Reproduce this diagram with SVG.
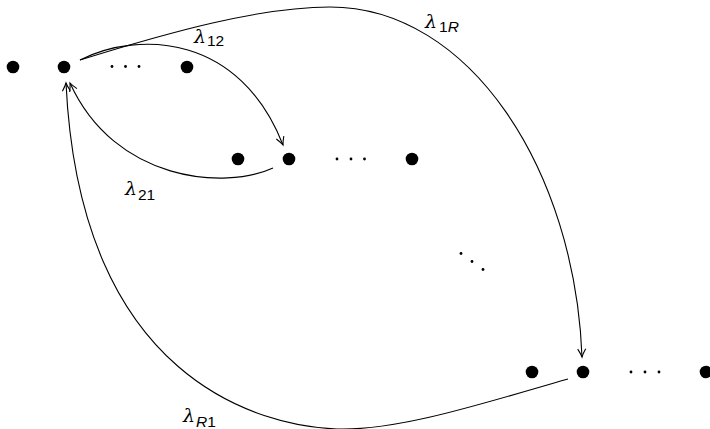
<svg xmlns="http://www.w3.org/2000/svg" width="710" height="429" viewBox="0 0 710 429">
<style>
.big{fill:#000}
.sm{fill:#000}
.edge{fill:none;stroke:#000;stroke-width:1.1}
.lam{font-family:"DejaVu Serif","Liberation Serif",serif;font-style:italic;font-size:19px;fill:#000}
.sub{font-family:"Liberation Sans",Arial,sans-serif;font-size:15.5px;fill:#000}
.subi{font-family:"Liberation Sans",Arial,sans-serif;font-size:15.5px;font-style:italic;fill:#000}
</style>
<defs>
<marker id="arr" viewBox="-10 -6 12 12" refX="0" refY="0" markerWidth="12" markerHeight="12" markerUnits="userSpaceOnUse" orient="auto">
<path d="M-8,-4 Q-3,-1 0,0 Q-3,1 -8,4" fill="none" stroke="#000" stroke-width="1.1"/>
</marker>
</defs>
<rect width="710" height="429" fill="#fff"/>
<g id="row1">
<circle class="big" cx="13" cy="67" r="6.3"/>
<circle id="n1" class="big" cx="64" cy="67" r="6.3"/>
<circle class="sm" cx="112" cy="66.5" r="1.4"/>
<circle class="sm" cx="125.5" cy="66.5" r="1.4"/>
<circle class="sm" cx="139" cy="66.5" r="1.4"/>
<circle class="big" cx="187" cy="67" r="6.3"/>
</g>
<g id="row2">
<circle class="big" cx="238" cy="159" r="6.3"/>
<circle id="n2" class="big" cx="289" cy="159" r="6.3"/>
<circle class="sm" cx="337" cy="159" r="1.4"/>
<circle class="sm" cx="351" cy="159" r="1.4"/>
<circle class="sm" cx="364.5" cy="159" r="1.4"/>
<circle class="big" cx="412" cy="159" r="6.3"/>
</g>
<g id="vdots">
<circle class="sm" cx="461" cy="253.5" r="1.4"/>
<circle class="sm" cx="472" cy="261.5" r="1.4"/>
<circle class="sm" cx="483" cy="269.5" r="1.4"/>
</g>
<g id="rowR">
<circle class="big" cx="532" cy="372" r="6.3"/>
<circle id="nR" class="big" cx="583" cy="372" r="6.3"/>
<circle class="sm" cx="631" cy="372" r="1.4"/>
<circle class="sm" cx="645" cy="372" r="1.4"/>
<circle class="sm" cx="659" cy="372" r="1.4"/>
<circle class="big" cx="706" cy="372" r="6.3"/>
</g>
<g id="connectors">
<path class="edge" d="M80,60 C140,30 240,35 283,145" marker-end="url(#arr)"/>
<path class="edge" d="M80,60 C170,32 260,7 330,7 C470,7 575,170 582,357" marker-end="url(#arr)"/>
<path class="edge" d="M273,168 C225,190 115,182 70,83" marker-end="url(#arr)"/>
<path class="edge" d="M568,379 C484,403 399,431 337,429 C260,426 80,380 66,83" marker-end="url(#arr)"/>
</g>
<g id="labels">
<text x="194" y="43"><tspan class="lam">λ</tspan><tspan class="sub" x="207" y="46">12</tspan></text>
<text x="425" y="28"><tspan class="lam">λ</tspan><tspan class="sub" x="439" y="32">1</tspan><tspan class="subi">R</tspan></text>
<text x="125" y="195"><tspan class="lam">λ</tspan><tspan class="sub" x="138" y="200">21</tspan></text>
<text x="183" y="422"><tspan class="lam">λ</tspan><tspan class="subi" x="196" y="427">R</tspan><tspan class="sub">1</tspan></text>
</g>
</svg>
